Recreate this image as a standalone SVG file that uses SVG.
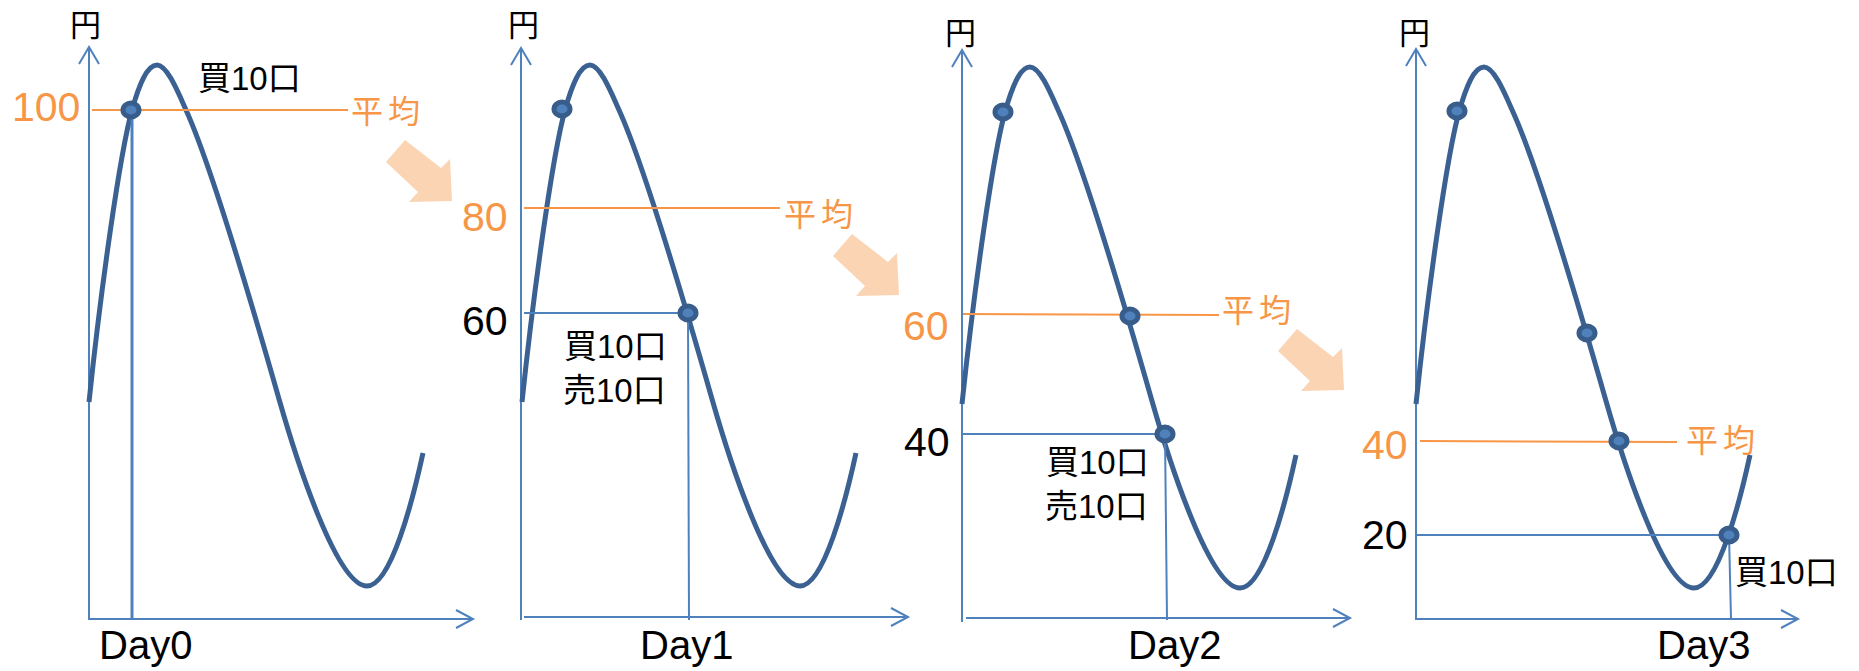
<svg xmlns="http://www.w3.org/2000/svg" xmlns:xlink="http://www.w3.org/1999/xlink" width="1859" height="671" viewBox="0 0 1859 671">
<style>
.ax{stroke:#4F81BD;stroke-width:2;fill:none}
.chev{stroke:#4F81BD;stroke-width:2;fill:none;stroke-linejoin:miter}
.wave{stroke:#3A6192;stroke-width:5;fill:none;stroke-linecap:butt;stroke-linejoin:round}
.avg{stroke:#F79646;stroke-width:2}
.lvl{stroke:#4F81BD;stroke-width:2}
.drop{stroke:#4F81BD;stroke-width:2}
.dot{fill:#4F81BD;stroke:#385D8A;stroke-width:5}
.t{font-family:"Liberation Sans","Noto Sans CJK JP",sans-serif}
.num{font-size:41px}
.day{font-size:40px;fill:#000}
.lab{font-size:33px;fill:#000}
.yen{font-size:31px;fill:#000}
.avgt{font-size:32px;fill:#F79646;letter-spacing:5px}
.or{fill:#F79646}
.bk{fill:#000}
.big{fill:#FBD4B4}
</style>
<defs>
<path id="wave" d="M0,0 C12,-114 31,-249 43,-292 C50,-317 58,-337 68,-337 C78,-337 89,-310 97,-292 C122,-237 160,-108 190,-3 C208,60 248,184 278,184 C302,184 324,97 334,51"/>
<polygon id="bigArrow" points="19,-22 55,6 64,-3 66,39 23,40 32,30 0,0"/>
</defs>

<g id="connectors">
<use href="#bigArrow" class="big" transform="translate(386,162)"/>
<use href="#bigArrow" class="big" transform="translate(833,256)"/>
<use href="#bigArrow" class="big" transform="translate(1278,351)"/>
</g>

<g id="day0">
<line class="ax" x1="89" y1="620" x2="89" y2="48"/>
<polyline class="chev" points="79,64 89,47 99,64"/>
<line class="ax" x1="89" y1="619" x2="472" y2="619"/>
<polyline class="chev" points="456,610 473,619 456,628"/>
<text class="t yen" x="70" y="36">円</text>
<use href="#wave" class="wave" x="89" y="402"/>
<line class="avg" x1="92" y1="110" x2="348" y2="110"/>
<line class="drop" x1="132" y1="110" x2="132" y2="620" style="stroke-width:3"/>
<ellipse class="dot" cx="131" cy="110" rx="8" ry="7"/>
<text class="t num or" x="12" y="121">100</text>
<text class="t avgt" x="351" y="123">平均</text>
<text class="t lab" x="198" y="90">買10口</text>
<text class="t day" x="99" y="659">Day0</text>
</g>

<g id="day1">
<line class="ax" x1="521" y1="620" x2="521" y2="48"/>
<polyline class="chev" points="511,65 521,48 531,65"/>
<line class="ax" x1="524" y1="617" x2="907" y2="617"/>
<polyline class="chev" points="891,608 908,617 891,626"/>
<text class="t yen" x="508" y="36">円</text>
<use href="#wave" class="wave" x="522" y="402"/>
<line class="avg" x1="524" y1="208" x2="780" y2="208"/>
<line class="lvl" x1="524" y1="313" x2="688" y2="313"/>
<line class="drop" x1="688" y1="313" x2="689" y2="620"/>
<ellipse class="dot" cx="562" cy="109" rx="8" ry="7"/>
<ellipse class="dot" cx="688" cy="313" rx="8" ry="7"/>
<text class="t num or" x="462" y="231">80</text>
<text class="t num bk" x="462" y="335">60</text>
<text class="t avgt" x="784" y="226">平均</text>
<text class="t lab" x="564" y="358">買10口</text>
<text class="t lab" x="563" y="402">売10口</text>
<text class="t day" x="640" y="659">Day1</text>
</g>

<g id="day2">
<line class="ax" x1="962" y1="622" x2="962" y2="50"/>
<polyline class="chev" points="952,67 962,50 972,67"/>
<line class="ax" x1="966" y1="618" x2="1349" y2="618"/>
<polyline class="chev" points="1333,609 1350,618 1333,627"/>
<text class="t yen" x="945" y="44">円</text>
<use href="#wave" class="wave" x="962" y="404"/>
<line class="avg" x1="963" y1="314" x2="1219" y2="315"/>
<line class="lvl" x1="963" y1="434" x2="1165" y2="434"/>
<line class="drop" x1="1165" y1="434" x2="1167" y2="620"/>
<ellipse class="dot" cx="1003" cy="112" rx="8" ry="7"/>
<ellipse class="dot" cx="1130" cy="316" rx="8" ry="7"/>
<ellipse class="dot" cx="1165" cy="434" rx="8" ry="7"/>
<text class="t num or" x="903" y="340">60</text>
<text class="t num bk" x="904" y="456">40</text>
<text class="t avgt" x="1222" y="322">平均</text>
<text class="t lab" x="1046" y="474">買10口</text>
<text class="t lab" x="1045" y="518">売10口</text>
<text class="t day" x="1128" y="659">Day2</text>
</g>

<g id="day3">
<line class="ax" x1="1416" y1="620" x2="1416" y2="49"/>
<polyline class="chev" points="1406,66 1416,49 1426,66"/>
<line class="ax" x1="1416" y1="619" x2="1797" y2="619"/>
<polyline class="chev" points="1781,610 1798,619 1781,628"/>
<text class="t yen" x="1399" y="44">円</text>
<use href="#wave" class="wave" x="1416" y="404"/>
<line class="avg" x1="1420" y1="441" x2="1677" y2="442"/>
<line class="lvl" x1="1416" y1="535" x2="1729" y2="535"/>
<line class="drop" x1="1729" y1="535" x2="1731" y2="619"/>
<ellipse class="dot" cx="1457" cy="111" rx="8" ry="7"/>
<ellipse class="dot" cx="1587" cy="333" rx="8" ry="7"/>
<ellipse class="dot" cx="1619" cy="441" rx="8" ry="7"/>
<ellipse class="dot" cx="1729" cy="535" rx="8" ry="7"/>
<text class="t num or" x="1362" y="459">40</text>
<text class="t num bk" x="1362" y="549">20</text>
<text class="t avgt" x="1686" y="452">平均</text>
<text class="t lab" x="1735" y="584">買10口</text>
<text class="t day" x="1657" y="659">Day3</text>
</g>
</svg>
